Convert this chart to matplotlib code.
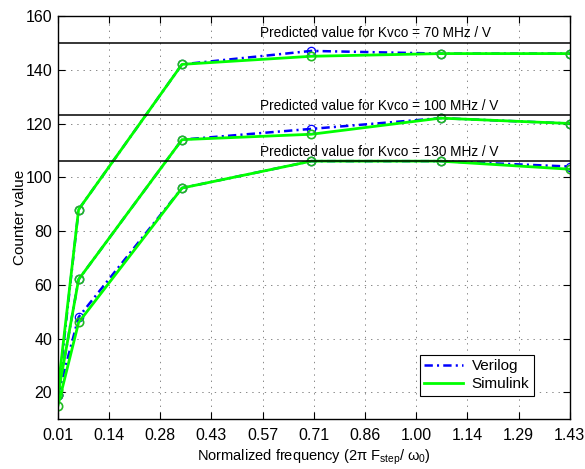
import numpy as np
import matplotlib.pyplot as plt
from matplotlib.lines import Line2D

plt.rcParams['font.family'] = ['Liberation Sans', 'DejaVu Sans']
plt.rcParams['mathtext.fontset'] = 'custom'
plt.rcParams['mathtext.rm'] = 'Liberation Sans'
plt.rcParams['mathtext.it'] = 'Liberation Sans'
plt.rcParams['lines.scale_dashes'] = False

# normalized step frequency
freq = np.array([0.2, 1, 5, 10, 15, 20]) / 14.0

verilog_70 = [19, 88, 142, 147, 146, 146]
simulink_70 = [21, 88, 142, 145, 146, 146]
verilog_100 = [19, 62, 114, 118, 122, 120]
simulink_100 = [19, 62, 114, 116, 122, 120]
verilog_130 = [19, 48, 96, 106, 106, 104]
simulink_130 = [15, 46, 96, 106, 106, 103]

predicted = [150, 123, 106]
kvco = [70, 100, 130]

xtick_labels = ['0.01', '0.14', '0.28', '0.43', '0.57', '0.71', '0.86', '1.00', '1.14', '1.29', '1.43']

fig = plt.figure(figsize=(5.85, 4.69), dpi=100)
ax = fig.add_axes([0.099, 0.106, 0.875, 0.86])

dashdot = (0, (6, 3, 1.5, 3))
for v in [verilog_70, verilog_100, verilog_130]:
    ax.plot(freq, v, color='blue', linestyle=dashdot, lw=1.8, marker='o', ms=6,
            mfc='none', mec='blue', mew=0.9)
for s in [simulink_70, simulink_100, simulink_130]:
    ax.plot(freq, s, color='lime', linestyle='-', lw=2, marker='o', ms=6,
            mfc='none', mec='#22bb22', mew=1.2)

for p, k in zip(predicted, kvco):
    ax.axhline(p, color='black', lw=1.1)
    ax.text(0.572, p + 0.9, 'Predicted value for Kvco = %d MHz / V' % k,
            fontsize=9.8, ha='left', va='bottom')

ax.set_xlim(freq[0], freq[-1])
ax.set_ylim(10, 160)
ax.set_xticks(np.linspace(freq[0], freq[-1], 11))
ax.set_xticklabels(xtick_labels)
ax.set_yticks([20, 40, 60, 80, 100, 120, 140, 160])
ax.tick_params(direction='in', top=True, right=True, labelsize=11.5,
               length=5, width=0.8)
ax.tick_params(axis='x', pad=6)
ax.tick_params(axis='y', pad=4)
ax.grid(True, linestyle=(0, (1, 3.5)), color='#888888', lw=0.7)
for sp in ax.spines.values():
    sp.set_linewidth(1)

ax.set_xlabel(r'Normalized frequency (2$\pi$ F$_{step}$/ $\omega_0$)', fontsize=10.5,
              labelpad=4)
ax.set_ylabel('Counter value', fontsize=11, labelpad=-1)

handles = [Line2D([], [], color='blue', linestyle=dashdot, lw=1.8),
           Line2D([], [], color='lime', lw=2)]
leg = ax.legend(handles, ['Verilog', 'Simulink'], loc='lower right',
                bbox_to_anchor=(0.945, 0.04), fontsize=11, fancybox=False,
                framealpha=1, edgecolor='black', borderpad=0.3,
                handlelength=2.5, labelspacing=0.25, handletextpad=0.6)
leg.get_frame().set_linewidth(0.8)

fig.savefig('out.png', dpi=100)
